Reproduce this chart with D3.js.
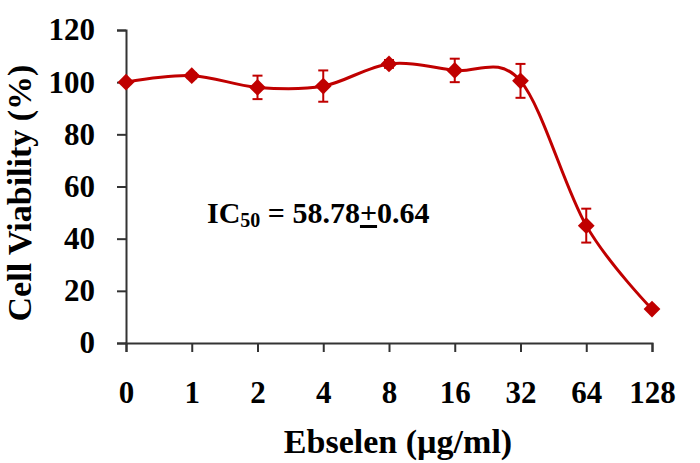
<!DOCTYPE html>
<html>
<head>
<meta charset="utf-8">
<script src="https://cdn.jsdelivr.net/npm/d3@7"></script>
<style>
  body { margin: 0; background: #fff; }
  text { font-family: "Liberation Serif", "Times New Roman", serif; font-weight: bold; }
</style>
</head>
<body>
<svg width="700" height="463"></svg>
<script>
// data
var doses = ['0', '1', '2', '4', '8', '16', '32', '64', '128'];
var viability = [100, 102.5, 98, 98.5, 107, 104.5, 100.5, 45, 13];
var errors = [0, 1, 4.5, 6, 1.5, 4.5, 6.5, 6.5, 0];
var yTicks = [0, 20, 40, 60, 80, 100, 120];

var svg = d3.select('svg');
var red = '#c00000';
var axisColor = '#333';

var x = d3.scalePoint()
    .domain(doses)
    .range([126, 652]);

var y = d3.scaleLinear()
    .domain([0, 120])
    .range([343, 30]);

var points = doses.map(function(d, i){
    return {dose: d, v: viability[i], e: errors[i]};
});

// y axis
var yAxis = svg.append('g')
    .attr('transform', 'translate(126,0)')
    .call(d3.axisLeft(y).tickValues(yTicks).tickSize(9).tickPadding(22));

// x axis
var xAxis = svg.append('g')
    .attr('transform', 'translate(0,343)')
    .call(d3.axisBottom(x).tickSize(9).tickPadding(0));

[yAxis, xAxis].forEach(function(g){
    g.select('.domain').attr('stroke', axisColor).attr('stroke-width', 2);
    g.selectAll('.tick line').attr('stroke', axisColor).attr('stroke-width', 2);
    g.selectAll('.tick text')
        .attr('fill', '#000')
        .style('font-size', '31px');
});
xAxis.selectAll('.tick text').attr('y', 60).attr('dy', 0);

// smooth line (excel-like)
var line = d3.line()
    .x(function(d){ return x(d.dose); })
    .y(function(d){ return y(d.v); })
    .curve(d3.curveCardinal.tension(0));

svg.append('path')
    .datum(points)
    .attr('d', line)
    .attr('fill', 'none')
    .attr('stroke', red)
    .attr('stroke-width', 3);

// error bars
var eb = svg.selectAll('.err')
    .data(points.filter(function(d){ return d.e > 0; }))
    .enter()
    .append('g')
    .attr('class', 'err')
    .attr('stroke', red)
    .attr('stroke-width', 2);

eb.append('line')
    .attr('x1', function(d){ return x(d.dose); })
    .attr('x2', function(d){ return x(d.dose); })
    .attr('y1', function(d){ return y(d.v - d.e); })
    .attr('y2', function(d){ return y(d.v + d.e); });

[-1, 1].forEach(function(s){
    eb.append('line')
        .attr('x1', function(d){ return x(d.dose) - 5; })
        .attr('x2', function(d){ return x(d.dose) + 5; })
        .attr('y1', function(d){ return y(d.v + s * d.e); })
        .attr('y2', function(d){ return y(d.v + s * d.e); });
});

// diamond markers
svg.selectAll('.marker')
    .data(points)
    .enter()
    .append('path')
    .attr('class', 'marker')
    .attr('d', d3.symbol().type(d3.symbolDiamond2).size(180))
    .attr('transform', function(d){
        return 'translate(' + x(d.dose) + ',' + y(d.v) + ')';
    })
    .attr('fill', red);

// axis titles
svg.append('text')
    .attr('x', 398)
    .attr('y', 453)
    .attr('text-anchor', 'middle')
    .style('font-size', '34px')
    .text('Ebselen (µg/ml)');

svg.append('text')
    .attr('transform', 'translate(31,193) rotate(-90)')
    .attr('text-anchor', 'middle')
    .style('font-size', '34px')
    .text('Cell Viability (%)');

// IC50 annotation
var ic = svg.append('text')
    .attr('x', 207)
    .attr('y', 223)
    .style('font-size', '30px');
ic.append('tspan').text('IC');
ic.append('tspan').attr('dy', 4).style('font-size', '20px').text('50');
ic.append('tspan').attr('dy', -4).text(' = 58.78');
ic.append('tspan').style('text-decoration', 'underline').text('+');
ic.append('tspan').text('0.64');
</script>
</body>
</html>
